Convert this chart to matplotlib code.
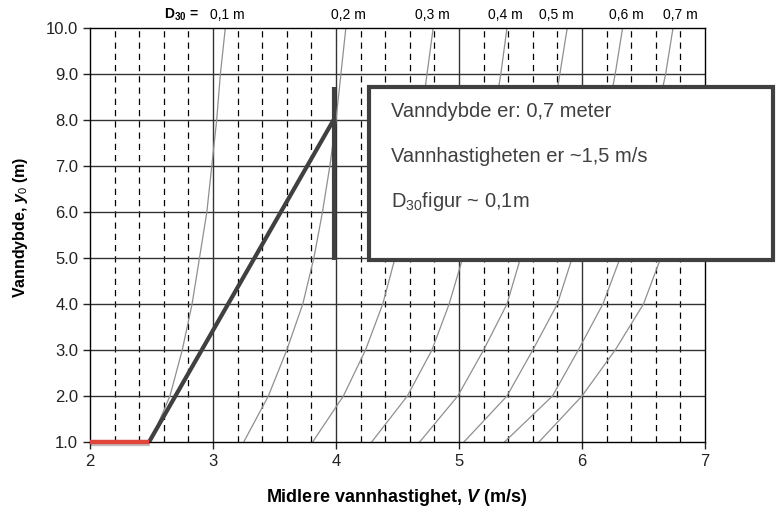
import numpy as np
import matplotlib
matplotlib.use("Agg")
import matplotlib.pyplot as plt
import matplotlib.patheffects as pe
from matplotlib.patches import Rectangle

plt.rcParams['font.family'] = ['Liberation Sans', 'DejaVu Sans']
plt.rcParams['mathtext.fontset'] = 'custom'
plt.rcParams['mathtext.rm'] = 'Liberation Sans'
plt.rcParams['mathtext.it'] = 'Liberation Sans:italic:bold'
plt.rcParams['mathtext.bf'] = 'Liberation Sans:bold'

# water depth y0 (m) at which each curve was read
depth = [1, 2, 3, 4, 5, 6, 7, 8, 9, 10]
# mean velocity V (m/s) along each D30 curve
d30_labels = ['0,1 m', '0,2 m', '0,3 m', '0,4 m', '0,5 m', '0,6 m', '0,7 m', '']
v_curves = [
    [2.49, 2.65, 2.75, 2.83, 2.89, 2.95, 2.99, 3.03, 3.06, 3.10],
    [3.25, 3.45, 3.60, 3.73, 3.82, 3.89, 3.95, 4.00, 4.04, 4.08],
    [3.81, 4.06, 4.24, 4.38, 4.48, 4.56, 4.63, 4.69, 4.74, 4.79],
    [4.29, 4.58, 4.78, 4.92, 5.03, 5.13, 5.20, 5.28, 5.34, 5.39],
    [4.68, 4.99, 5.20, 5.39, 5.50, 5.60, 5.68, 5.76, 5.82, 5.88],
    [5.04, 5.39, 5.60, 5.80, 5.92, 6.03, 6.11, 6.20, 6.27, 6.33],
    [5.37, 5.76, 5.97, 6.17, 6.31, 6.42, 6.51, 6.60, 6.68, 6.74],
    [5.65, 6.00, 6.27, 6.50, 6.64, 6.76, 6.85, 6.95, 7.02, 7.10],
]
# where the D30 labels sit above the frame
label_x = [3.12, 4.10, 4.78, 5.38, 5.79, 6.36, 6.80]

# worked example: read-off path and result
path_v = [2.48, 3.98]
path_y = [1.0, 8.0]
marker_v = [3.98, 3.98]
marker_y = [4.96, 8.72]
red_v = [2.0, 2.48]
red_y = [1.0, 1.0]
box_lines = ['Vanndybde er: 0,7 meter',
             'Vannhastigheten er ~1,5 m/s',
             'D$_{30}$figur ~ 0,1m']

fig = plt.figure(figsize=(7.76, 5.14), dpi=100)
ax = fig.add_axes([90/776, 1-442/514, 615/776, 414/514])
ax.set_xlim(2, 7)
ax.set_ylim(1, 10)

# grid
for x in np.arange(2.2, 7.0, 0.2):
    if abs(x - round(x)) > 1e-6:
        ax.axvline(x, color='black', lw=0.9, ls=(0, (5, 4)), zorder=1)
for x in range(3, 7):
    ax.axvline(x, color='#333333', lw=1.0, zorder=1)
for y in range(2, 10):
    ax.axhline(y, color='#333333', lw=1.0, zorder=1)

for v in v_curves:
    ax.plot(v, depth, color='#8f8f8f', lw=0.9, zorder=2)

ax.plot(path_v, path_y, color='#404040', lw=3.0, solid_capstyle='butt', zorder=4)
ax.plot(marker_v, marker_y, color='#404040', lw=3.0, solid_capstyle='butt', zorder=4)
ax.plot(red_v, red_y, color='#e0443a', lw=3.2, solid_capstyle='butt', zorder=5, clip_on=False,
        path_effects=[pe.SimpleLineShadow(offset=(0.5, -1.5), alpha=0.25), pe.Normal()])

box = Rectangle((4.27, 4.96), 3.28, 3.76, facecolor='white', edgecolor='#404040',
                lw=3.0, zorder=6, clip_on=False)
ax.add_patch(box)
for i, t in enumerate(box_lines):
    ax.text(4.447, 8.18 - 0.98 * i, t, fontsize=14.5, color='#404040',
            ha='left', va='center', zorder=7)

# D30 labels above the frame
ax.text(2.74, 10.28, 'D$_{\\mathbf{30}}$ =', fontsize=10, fontweight='bold',
        ha='center', va='center', clip_on=False)
for lx, lab in zip(label_x, d30_labels):
    ax.text(lx, 10.28, lab, fontsize=10, ha='center', va='center', clip_on=False)

ax.set_xticks(range(2, 8))
ax.set_yticks(range(1, 11))
ax.set_yticklabels(['%.1f' % y for y in range(1, 11)])
ax.tick_params(direction='out', length=5, width=1, labelsize=12, colors='#222222')
for s in ax.spines.values():
    s.set_color('black')
    s.set_linewidth(1.0)

fig.text(397/776, 1-497/514, 'Midlere vannhastighet, $V$ (m/s)', fontsize=13,
         fontweight='bold', ha='center', va='center')
fig.text(21/776, 1-227/514, 'Vanndybde, $y_{\\mathit{0}}$ (m)', fontsize=11.5,
         fontweight='bold', ha='center', va='center', rotation=90)

fig.savefig('out.png', dpi=100)
